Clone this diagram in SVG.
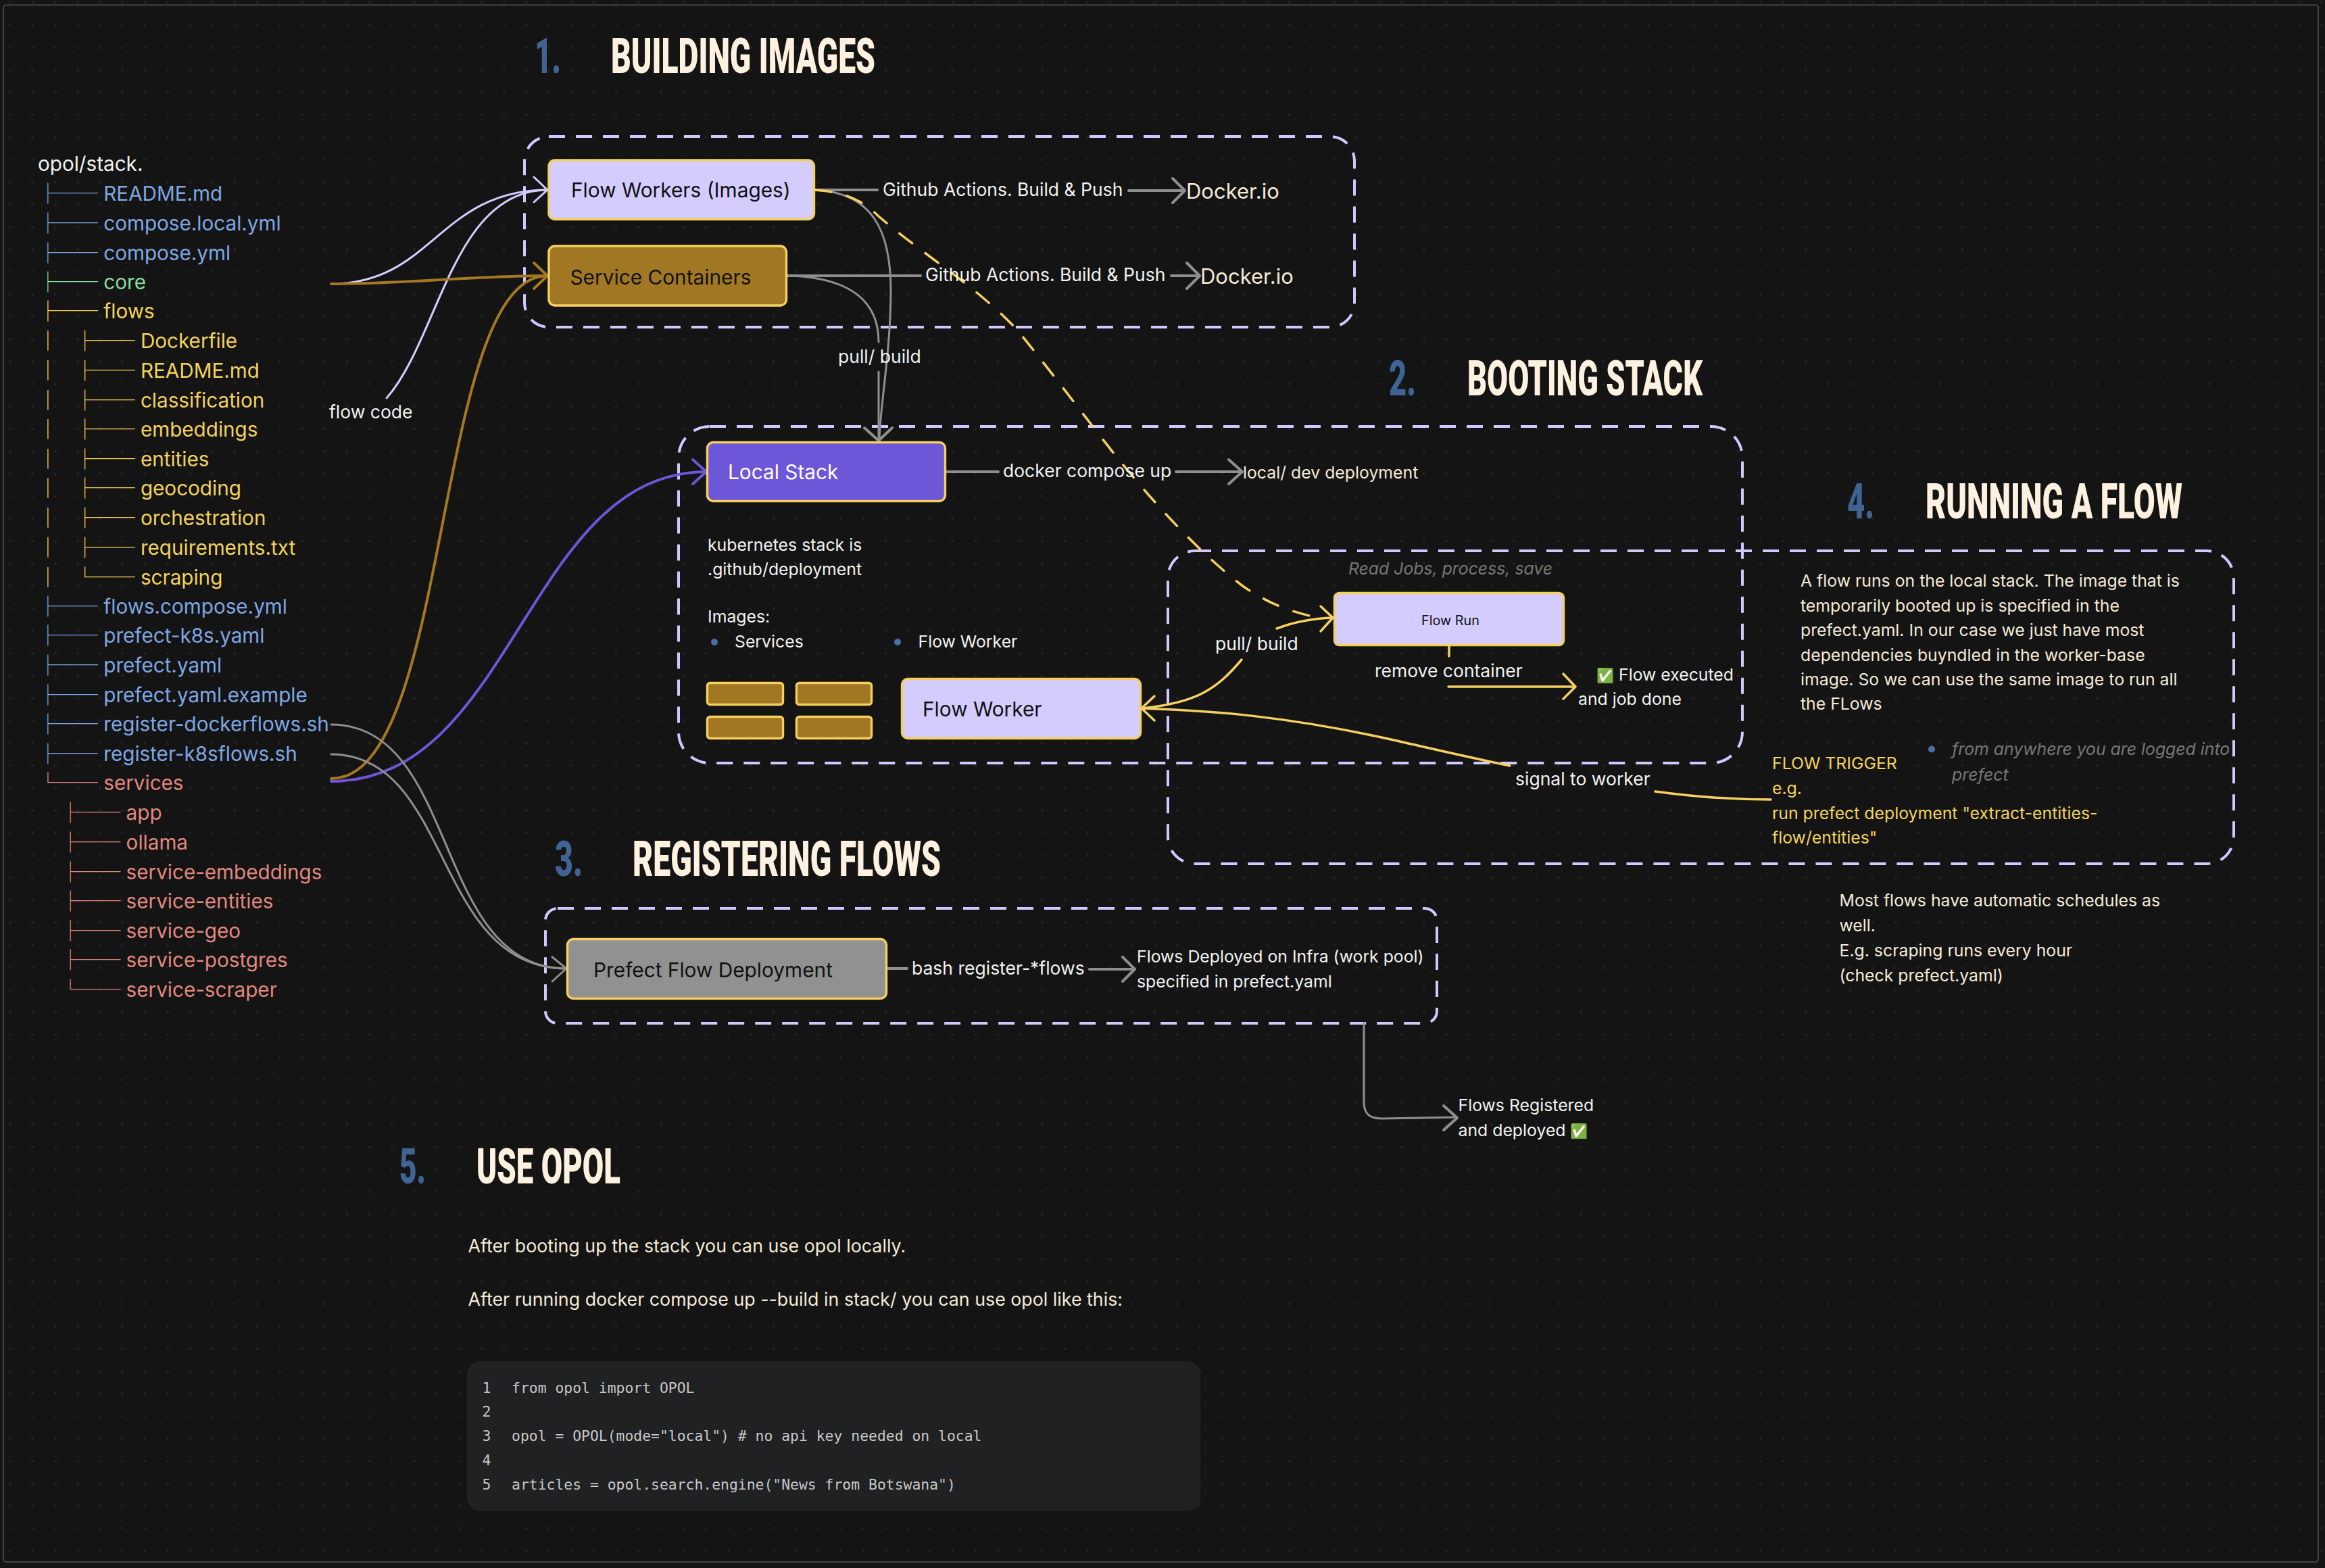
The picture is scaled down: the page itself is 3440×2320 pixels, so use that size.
<svg xmlns="http://www.w3.org/2000/svg" width="3440" height="2320" viewBox="0 0 3440 2320">
<style>
text{font-family:Inter,"Noto Sans",sans-serif;fill:#f2f2f2;font-size:24.8px}
.t{font-family:Inter,"Noto Sans CJK SC",sans-serif;font-size:29.65px;white-space:pre}
.b{fill:#7ea7e3}.g{fill:#85dc9c}.y{fill:#f2d35c}.s{fill:#e2887f}
.h{font-family:Roboto,"Liberation Sans",sans-serif;font-weight:900;font-size:36.5px;fill:#fff1df}
.n{font-family:Roboto,"Liberation Sans",sans-serif;font-weight:900;font-size:36.5px;fill:#3f6494}
.grp{fill:none;stroke:#d0c8ff;stroke-width:4;stroke-dasharray:24 16}
.box{stroke:#f5d060;stroke-width:3.4}
.lilac{fill:#d4ccff}.gold{fill:#a27723}
.lbl{font-size:29.8px;fill:#111}
.mid{font-size:26.5px}
.c{fill:#f5ead8}
.i{font-style:italic;fill:#777}
.m{font-family:"DejaVu Sans Mono","Liberation Mono",monospace;font-size:21.4px;fill:#c8c8c8}
.em{font-size:21px}
.e{fill:none;stroke-linecap:round;stroke-linejoin:round}
.gr{stroke:#8f8f8f;stroke-width:4}.gr2{stroke:#8f8f8f;stroke-width:3}
.ye{stroke:#f5d060;stroke-width:3.5}.li{stroke:#d4ccff;stroke-width:3}.or{stroke:#a57722;stroke-width:4}.pu{stroke:#6e56d8;stroke-width:4}
</style>
<defs>
<pattern id="dots" x="13.5" y="2" width="33.2" height="33.2" patternUnits="userSpaceOnUse"><rect width="3.6" height="3.6" fill="#222"/></pattern>
</defs>
<rect width="3440" height="2320" fill="#141414"/>
<rect width="3440" height="2320" fill="url(#dots)"/>
<rect x="5" y="7.5" width="3425" height="2303.5" rx="4" fill="none" stroke="#444" stroke-width="2"/>

<g id="headings">
<text class="n" transform="translate(791 108) scale(1 2)" textLength="39" lengthAdjust="spacingAndGlyphs">1.</text>
<text class="h" transform="translate(904 108) scale(1 2)" textLength="391" lengthAdjust="spacingAndGlyphs">BUILDING IMAGES</text>
<text class="n" transform="translate(2055 585) scale(1 2)" textLength="40" lengthAdjust="spacingAndGlyphs">2.</text>
<text class="h" transform="translate(2171 585) scale(1 2)" textLength="348" lengthAdjust="spacingAndGlyphs">BOOTING STACK</text>
<text class="n" transform="translate(821 1296) scale(1 2)" textLength="41" lengthAdjust="spacingAndGlyphs">3.</text>
<text class="h" transform="translate(936 1296) scale(1 2)" textLength="456" lengthAdjust="spacingAndGlyphs">REGISTERING FLOWS</text>
<text class="n" transform="translate(2733 767) scale(1 2)" textLength="40" lengthAdjust="spacingAndGlyphs">4.</text>
<text class="h" transform="translate(2849 767) scale(1 2)" textLength="380" lengthAdjust="spacingAndGlyphs">RUNNING A FLOW</text>
<text class="n" transform="translate(591 1751) scale(1 2)" textLength="39" lengthAdjust="spacingAndGlyphs">5.</text>
<text class="h" transform="translate(705 1751) scale(1 2)" textLength="213" lengthAdjust="spacingAndGlyphs">USE OPOL</text>
</g>

<g id="tree">
<text class="t" x="56" y="253">opol/stack.</text>
<text class="t b" x="56" y="297">├── README.md</text>
<text class="t b" x="56" y="340.5">├── compose.local.yml</text>
<text class="t b" x="56" y="384.5">├── compose.yml</text>
<text class="t g" x="56" y="428">├── core</text>
<text class="t y" x="56" y="471">├── flows</text>
<text class="t y" x="56" y="514.5">│   ├── Dockerfile</text>
<text class="t y" x="56" y="558.5">│   ├── README.md</text>
<text class="t y" x="56" y="602.5">│   ├── classification</text>
<text class="t y" x="56" y="646">│   ├── embeddings</text>
<text class="t y" x="56" y="689.5">│   ├── entities</text>
<text class="t y" x="56" y="733">│   ├── geocoding</text>
<text class="t y" x="56" y="776.5">│   ├── orchestration</text>
<text class="t y" x="56" y="820.5">│   ├── requirements.txt</text>
<text class="t y" x="56" y="864.5">│   └── scraping</text>
<text class="t b" x="56" y="907.5">├── flows.compose.yml</text>
<text class="t b" x="56" y="951">├── prefect-k8s.yaml</text>
<text class="t b" x="56" y="994.5">├── prefect.yaml</text>
<text class="t b" x="56" y="1038.5">├── prefect.yaml.example</text>
<text class="t b" x="56" y="1082">├── register-dockerflows.sh</text>
<text class="t b" x="56" y="1125.5">├── register-k8sflows.sh</text>
<text class="t s" x="56" y="1169">└── services</text>
<text class="t s" x="56" y="1212.5">    ├── app</text>
<text class="t s" x="56" y="1256.5">    ├── ollama</text>
<text class="t s" x="56" y="1300.5">    ├── service-embeddings</text>
<text class="t s" x="56" y="1344">    ├── service-entities</text>
<text class="t s" x="56" y="1387.5">    ├── service-geo</text>
<text class="t s" x="56" y="1431">    ├── service-postgres</text>
<text class="t s" x="56" y="1474.5">    └── service-scraper</text>
</g>

<g id="section-frames">
<rect id="frame-building" class="grp" x="776" y="202" width="1228" height="282" rx="36"/>
<rect id="frame-booting" class="grp" x="1004" y="631" width="1574" height="498" rx="46"/>
<rect id="frame-running" class="grp" x="1728" y="815" width="1577" height="463" rx="40"/>
<rect id="frame-registering" class="grp" x="807" y="1344" width="1319" height="170" rx="18"/>
</g>

<g id="connectors" class="e">
<path class="li" d="M490 420C640 420 650 281 810 281"/>
<path class="li" d="M572 589C650 500 670 281 810 281"/>
<path class="li" d="M790 262L810 281L790 299"/>
<path class="or" d="M490 420C600 420 700 408 810 408"/>
<path class="or" d="M490 1152C670 1152 640 408 810 408"/>
<path class="or" d="M790 389L810 408L790 427"/>
<path class="pu" d="M490 1156C760 1156 780 698 1045 698"/>
<path class="pu" d="M1025 680L1045 698L1025 716"/>
<path class="gr2" d="M490 1072C680 1072 640 1433 838 1433"/>
<path class="gr2" d="M490 1116C670 1116 640 1433 838 1433"/>
<path class="gr2" d="M817 1416L838 1433L817 1452"/>
<path class="gr" d="M1206 281H1298"/>
<path class="gr" d="M1670 282H1753M1735 264L1753 282L1735 300"/>
<path class="gr" d="M1165 408H1362"/>
<path class="gr" d="M1733 408H1775M1756 389L1775 408L1756 427"/>
<path class="gr2" d="M1206 281C1290 285 1318 340 1318 430C1318 520 1302 600 1301 652"/>
<path class="gr2" d="M1165 408C1250 410 1300 440 1300 506M1300 550V652"/>
<path class="gr" d="M1279 633L1300 652L1320 633"/>
<path class="gr" d="M1400 698H1477M1740 698H1838M1818 680L1838 698L1818 716"/>
<path class="gr" d="M1313 1433H1342M1612 1434H1679M1661 1416L1679 1434L1661 1452"/>
<path class="gr2" d="M2018 1514V1630C2018 1648 2026 1655 2045 1655L2155 1653"/>
<path class="gr" d="M2136 1636L2156 1654L2136 1672"/>
<path class="ye" stroke-dasharray="24 24" d="M1206 281C1240 284 1270 290 1300 320C1370 380 1440 420 1503 486C1540 530 1600 610 1652 676C1700 735 1770 815 1840 868C1880 895 1910 905 1950 914"/>
<path class="ye" d="M1689 1048C1770 1040 1800 1020 1837 976M1889 930C1910 922 1940 915 1972 914"/>
<path class="ye" d="M1954 897L1972 914L1954 934"/>
<path class="ye" d="M1689 1048C1800 1052 1900 1060 2044 1091C2120 1108 2180 1122 2234 1133"/>
<path class="ye" d="M2449 1171C2500 1178 2560 1183 2620 1183"/>
<path class="ye" d="M1708 1030L1689 1048L1708 1066"/>
<path class="ye" d="M2144 956V971M2143 1016H2331M2313 997L2331 1016L2313 1034"/>
</g>

<g id="flow-workers-images"><rect class="box lilac" x="812" y="237" width="392.5" height="87.5" rx="9"/><text class="lbl" x="845" y="291.5">Flow Workers (Images)</text></g>
<g id="service-containers"><rect class="box gold" x="812" y="364" width="351.5" height="88" rx="9"/><text class="lbl" x="843.5" y="420.5">Service Containers</text></g>
<g id="local-stack"><rect class="box" fill="#6e56d8" x="1046.5" y="654.5" width="352" height="87" rx="9"/><text class="lbl" style="fill:#fff" x="1077" y="709">Local Stack</text></g>
<g id="flow-worker"><rect class="box lilac" x="1334.5" y="1004.5" width="353" height="88" rx="9"/><text class="lbl" x="1365" y="1060">Flow Worker</text></g>
<g id="flow-run"><rect class="box lilac" x="1974.5" y="877.5" width="339" height="77" rx="7"/><text x="2103" y="925" style="font-size:19.8px;fill:#111">Flow Run</text></g>
<g id="prefect-flow-deployment"><rect class="box" fill="#919191" x="839.5" y="1389.5" width="472" height="88" rx="9"/><text class="lbl" x="878" y="1446">Prefect Flow Deployment</text></g>
<g id="service-boxes">
<rect class="box gold" x="1046.5" y="1010.5" width="112" height="32" rx="4"/>
<rect class="box gold" x="1178.5" y="1010.5" width="111" height="32" rx="4"/>
<rect class="box gold" x="1046.5" y="1060.5" width="112" height="32" rx="4"/>
<rect class="box gold" x="1178.5" y="1060.5" width="111" height="32" rx="4"/>
</g>

<g id="labels">
<text class="mid" x="487" y="619">flow code</text>
<text class="mid" x="1306" y="290">Github Actions. Build &amp; Push</text>
<text class="mid" x="1369" y="416">Github Actions. Build &amp; Push</text>
<text class="c" x="1755" y="294" style="font-size:31px">Docker.io</text>
<text class="c" x="1776" y="420" style="font-size:31px">Docker.io</text>
<text class="mid" x="1240" y="537">pull/ build</text>
<text class="mid" x="1484" y="705.5">docker compose up</text>
<text class="c" x="1839" y="707.5">local/ dev deployment</text>
<text x="1047" y="814.5">kubernetes stack is</text>
<text x="1047" y="851">.github/deployment</text>
<text x="1047" y="920.5">Images:</text>
<circle cx="1057" cy="950" r="5" fill="#4a6fa5"/>
<text x="1087" y="957.5">Services</text>
<circle cx="1328" cy="950" r="5" fill="#4a6fa5"/>
<text x="1358.5" y="957.5">Flow Worker</text>
<text class="i" x="1995" y="850">Read Jobs, process, save</text>
<text class="mid" x="1798" y="962">pull/ build</text>
<text class="mid" x="2034" y="1002">remove container</text>
<text x="2362" y="1006.5"><tspan class="em">✅</tspan> <tspan x="2395">Flow executed</tspan></text>
<text x="2335" y="1043">and job done</text>
<text class="mid" x="2242" y="1161.5">signal to worker</text>
<text class="mid" x="1349" y="1442">bash register-*flows</text>
<text x="1682" y="1424">Flows Deployed on Infra (work pool)</text>
<text x="1682" y="1460.5">specified in prefect.yaml</text>
<text x="2157.5" y="1644">Flows Registered</text>
<text x="2157.5" y="1680.5">and deployed <tspan class="em" x="2323">✅</tspan></text>
</g>

<g id="running-notes">
<text class="c" x="2664" y="868">A flow runs on the local stack. The image that is</text>
<text class="c" x="2664" y="904.5">temporarily booted up is specified in the</text>
<text class="c" x="2664" y="941">prefect.yaml. In our case we just have most</text>
<text class="c" x="2664" y="977.5">dependencies buyndled in the worker-base</text>
<text class="c" x="2664" y="1014">image. So we can use the same image to run all</text>
<text class="c" x="2664" y="1050">the FLows</text>
<circle cx="2858" cy="1108.5" r="5" fill="#4a6fa5"/>
<text class="i" x="2888" y="1117">from anywhere you are logged into</text>
<text class="i" x="2888" y="1154.5">prefect</text>
<text class="y" x="2622" y="1138">FLOW TRIGGER</text>
<text class="y" x="2622" y="1175">e.g.</text>
<text class="y" x="2622" y="1211.5">run prefect deployment "extract-entities-</text>
<text class="y" x="2622" y="1248">flow/entities"</text>
<text class="c" x="2721.5" y="1341">Most flows have automatic schedules as</text>
<text class="c" x="2721.5" y="1378">well.</text>
<text class="c" x="2721.5" y="1414.5">E.g. scraping runs every hour</text>
<text class="c" x="2721.5" y="1451.5">(check prefect.yaml)</text>
</g>

<g id="use-opol">
<text class="c" x="692.5" y="1853" style="font-size:26.8px">After booting up the stack you can use opol locally.</text>
<text class="c" x="692.5" y="1932" style="font-size:26.8px">After running docker compose up --build in stack/ you can use opol like this:</text>
<rect x="691" y="2014" width="1085" height="222" rx="20" fill="#1f2123"/>
<text class="m" x="713.5" y="2060.5">1<tspan x="757">from opol import OPOL</tspan></text>
<text class="m" x="713.5" y="2096">2</text>
<text class="m" x="713.5" y="2132">3<tspan x="757">opol = OPOL(mode="local") # no api key needed on local</tspan></text>
<text class="m" x="713.5" y="2167.5">4</text>
<text class="m" x="713.5" y="2204">5<tspan x="757">articles = opol.search.engine("News from Botswana")</tspan></text>
</g>
</svg>
